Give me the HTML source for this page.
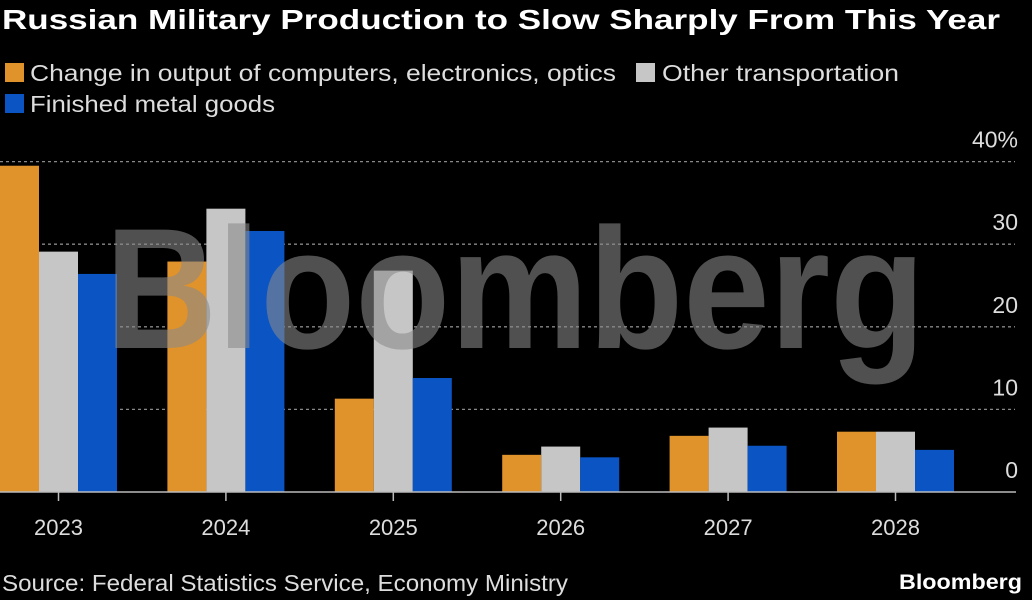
<!DOCTYPE html>
<html><head><meta charset="utf-8"><style>
html,body{margin:0;padding:0;background:#000;}
svg{display:block;font-family:"Liberation Sans",sans-serif;}
</style></head><body>
<svg id="chart" width="1032" height="600" viewBox="0 0 1032 600">
<rect width="1032" height="600" fill="#000"/>
<text x="2" y="29" fill="#fff" font-size="28" font-weight="bold" textLength="998" lengthAdjust="spacingAndGlyphs">Russian Military Production to Slow Sharply From This Year</text>
<g>
<rect x="5" y="63" width="19" height="19" fill="#E0922B"/>
<text x="30" y="81" fill="#ddd" font-size="23" textLength="586" lengthAdjust="spacingAndGlyphs">Change in output of computers, electronics, optics</text>
<rect x="636" y="63" width="19" height="19" fill="#C6C6C6"/>
<text x="662" y="81" fill="#ddd" font-size="23" textLength="237" lengthAdjust="spacingAndGlyphs">Other transportation</text>
<rect x="5" y="94" width="19" height="19" fill="#0A54C4"/>
<text x="30" y="112" fill="#ddd" font-size="23" textLength="245" lengthAdjust="spacingAndGlyphs">Finished metal goods</text>
</g>
<g id="grid"></g>
<g id="bars"></g>
<text x="515" y="348" text-anchor="middle" fill="#8a8a8a" fill-opacity="0.58" font-size="172" font-weight="bold" textLength="820" lengthAdjust="spacingAndGlyphs">Bloomberg</text>
<g id="xaxis"></g>
<text x="2" y="591" fill="#ddd" font-size="23" textLength="566" lengthAdjust="spacingAndGlyphs">Source: Federal Statistics Service, Economy Ministry</text>
<text x="1022" y="589" text-anchor="end" fill="#fff" font-size="21" font-weight="bold" textLength="123" lengthAdjust="spacingAndGlyphs">Bloomberg</text>
</svg>
<script>
const categories = ["2023","2024","2025","2026","2027","2028"];
const electronics = [39.5, 27.9, 11.3, 4.5, 6.8, 7.3];
const transport = [29.1, 34.3, 26.8, 5.5, 7.8, 7.3];
const metal = [26.4, 31.6, 13.8, 4.2, 5.6, 5.1];
const yTicks = [0, 10, 20, 30, 40];
const yTickLabels = ["0", "10", "20", "30", "40%"];

const NS = "http://www.w3.org/2000/svg";
const y = v => 492 - v * 8.26;
const xc = i => 58.5 + i * 167.4;
const bw = 39;
function mk(tag, attrs, parent){const e=document.createElementNS(NS,tag);for(const k in attrs)e.setAttribute(k,attrs[k]);parent.appendChild(e);return e;}
const grid = document.getElementById('grid');
yTicks.forEach((t,i)=>{
  if(t!==0){
    const l = mk('line',{x1:0,x2:1015,y1:y(t),y2:y(t),stroke:'#888','stroke-dasharray':'3,3','stroke-width':1.3},grid);
    
    
  }
  const tx = mk('text',{x:1018,y:y(t)-14,'text-anchor':'end',fill:'#ddd','font-size':23},grid);
  tx.textContent = yTickLabels[i];
  
  
});
const bars = document.getElementById('bars');
const series = [[electronics,'#E0922B','electronics'],[transport,'#C6C6C6','transport'],[metal,'#0A54C4','metal']];
categories.forEach((c,i)=>{
  series.forEach(([vals,col,nm],s)=>{
    const x0 = xc(i) + (s-1.5)*bw;
    const r = mk('rect',{x:x0,y:y(vals[i]),width:bw,height:492-y(vals[i]),fill:col},bars);
    
    
  });
});
const xa = document.getElementById('xaxis');
const base = mk('line',{x1:0,x2:1016,y1:492,y2:492,stroke:'#bbb','stroke-width':1.5},xa);


categories.forEach((c,i)=>{
  const tk = mk('line',{x1:xc(i),x2:xc(i),y1:492,y2:501,stroke:'#bbb','stroke-width':1.5},xa);
  
  
  const t = mk('text',{x:xc(i),y:535,'text-anchor':'middle',fill:'#ddd','font-size':22},xa);
  t.textContent = c;
  
  
});
</script>
</body></html>
